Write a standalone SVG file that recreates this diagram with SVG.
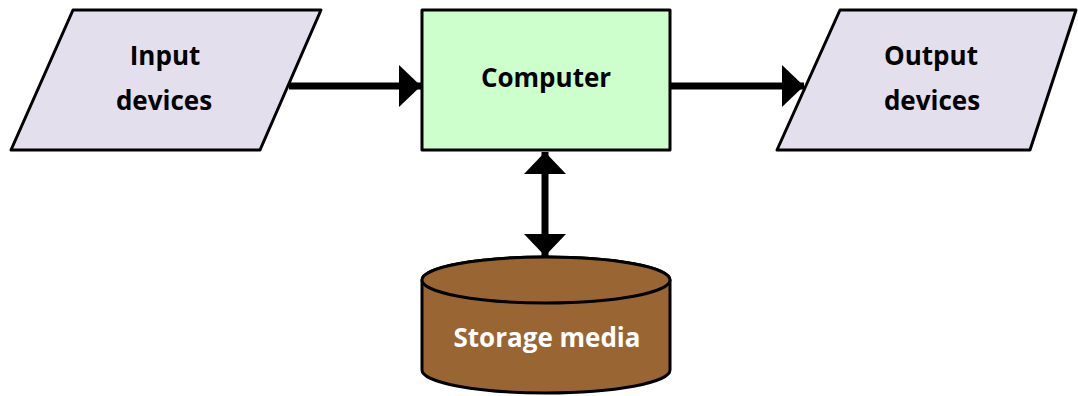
<svg xmlns="http://www.w3.org/2000/svg" width="1078" height="396" viewBox="0 0 1078 396">
<style>
.shape{stroke:#000;stroke-width:3;stroke-linejoin:round}
.para{fill:#E4DFEC}
.lbl{font-family:"Open Sans","Liberation Sans",sans-serif;font-weight:bold;font-size:26px;text-anchor:middle;fill:#000}
.conn{stroke:#000;stroke-width:7;fill:none}
</style>
<defs>
<marker id="ah" viewBox="0 0 22 42" refX="22" refY="21" markerWidth="22" markerHeight="42" markerUnits="userSpaceOnUse" orient="auto-start-reverse">
<path d="M0,0 L22,21 L0,42 Z" fill="#000"/>
</marker>
</defs>
<g id="connectors">
<line class="conn" x1="289" y1="86" x2="421" y2="86" marker-end="url(#ah)"/>
<line class="conn" x1="670" y1="86" x2="804" y2="86" marker-end="url(#ah)"/>
<line class="conn" x1="545" y1="152" x2="545" y2="256" marker-start="url(#ah)" marker-end="url(#ah)"/>
</g>
<g id="input">
<polygon class="shape para" points="73,10 321,10 260,150 11,150"/>
<text class="lbl" x="165" y="65">Input</text>
<text class="lbl" x="164" y="110">devices</text>
</g>
<g id="computer">
<rect class="shape" x="422" y="10" width="248" height="140" fill="#CCFFCC"/>
<text class="lbl" x="546" y="87">Computer</text>
</g>
<g id="output">
<polygon class="shape para" points="840,10 1076,10 1030,150 777,150"/>
<text class="lbl" x="931" y="65">Output</text>
<text class="lbl" x="932" y="110">devices</text>
</g>
<g id="storage">
<path class="shape" fill="#996633" d="M422,280 L422,370 A124,23 0 0 0 670,370 L670,280 A124,23 0 0 0 422,280 Z"/>
<ellipse class="shape" fill="#996633" cx="546" cy="280" rx="124" ry="23"/>
<text class="lbl" x="547" y="347" style="fill:#fff">Storage media</text>
</g>
</svg>
